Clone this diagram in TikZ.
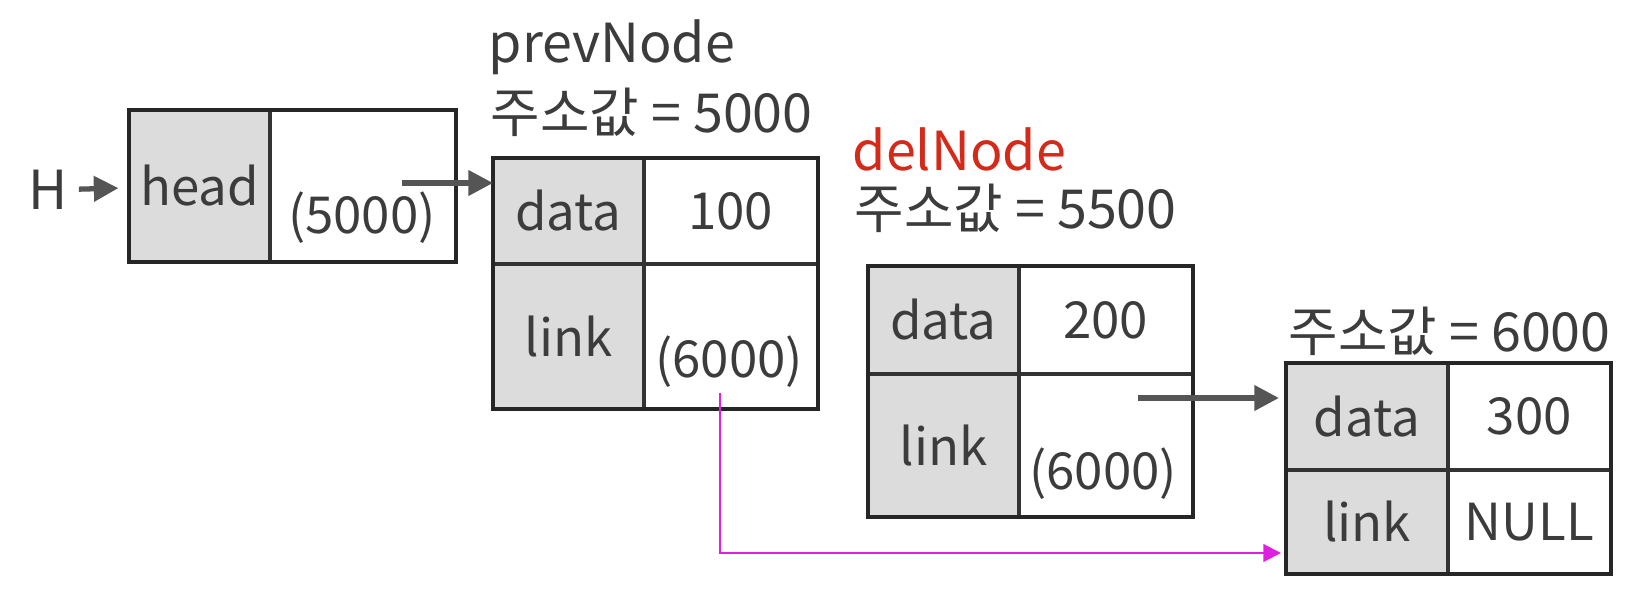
\documentclass[tikz,border=0pt]{standalone}
\usepackage{fontspec}
\setmainfont{Noto Sans CJK KR}
\usepackage{tikz}
\usetikzlibrary{arrows.meta, positioning, calc}
\definecolor{inkgray}{HTML}{3C3C3C}
\definecolor{keygray}{HTML}{DCDCDC}
\definecolor{ptrgray}{HTML}{555555}
\definecolor{delred}{HTML}{D42A1A}
\definecolor{linkpink}{HTML}{E020E0}
\newcommand{\lblsize}{\fontsize{14.5}{17}\selectfont}
\newcommand{\tagsize}{\fontsize{15.3}{18}\selectfont}

\begin{document}
\begin{tikzpicture}[x=0.01cm, y=-0.01cm, >=Latex, font=\lblsize, text=inkgray]
    \tikzset{
        cell/.style={draw=black!80, line width=0.5pt, inner sep=0pt, anchor=north west},
        key/.style={cell, fill=keygray},
        val/.style={cell, fill=white},
        outer/.style={draw=black!85, line width=1.1pt},
        txt/.style={inner sep=0pt},
        tag/.style={txt, anchor=west, font=\tagsize},
        ptr/.style={draw=ptrgray, line width=1.5pt, -{Triangle[length=7pt, width=7pt]}},
        relink/.style={draw=linkpink, line width=0.6pt, -{Triangle[length=5pt, width=5pt]}}
    }
    \useasboundingbox (0,0) rectangle (1632,600);

    % head pointer
    \node[txt, font=\tagsize] (H) at (48,190) {H};
    \node[key, minimum width=1.39cm, minimum height=1.5cm] (headk) at (129,110) {head};
    \node[val, minimum width=1.84cm, minimum height=1.5cm, right=0pt of headk] (headv) {};
    \node[txt] (headval) at (362,218) {(5000)};
    \draw[outer] (headk.north west) rectangle (headv.south east);

    % prevNode
    \node[tag] (plabel) at (488,47) {prevNode};
    \node[tag] (paddr) at (490,112) {주소값 = 5000};
    \node[key, minimum width=1.49cm, minimum height=1.04cm] (pdk) at (493,158) {data};
    \node[val, minimum width=1.72cm, minimum height=1.04cm, right=0pt of pdk] (pdv) {100};
    \node[key, minimum width=1.49cm, minimum height=1.43cm, below=0pt of pdk] (plk) {link};
    \node[val, minimum width=1.72cm, minimum height=1.43cm, below=0pt of pdv] (plv) {};
    \node[txt] (plval) at (729,362) {(6000)};
    \draw[outer] (pdk.north west) rectangle (plv.south east);

    % delNode
    \node[tag, text=delred] (dlabel) at (852,149) {delNode};
    \node[tag] (daddr) at (854,208) {주소값 = 5500};
    \node[key, minimum width=1.49cm, minimum height=1.06cm] (ddk) at (868,266) {data};
    \node[val, minimum width=1.72cm, minimum height=1.06cm, right=0pt of ddk] (ddv) {200};
    \node[key, minimum width=1.49cm, minimum height=1.41cm, below=0pt of ddk] (dlk) {link};
    \node[val, minimum width=1.72cm, minimum height=1.41cm, below=0pt of ddv] (dlv) {};
    \node[txt] (dlval) at (1103,474) {(6000)};
    \draw[outer] (ddk.north west) rectangle (dlv.south east);

    % node at 6000
    \node[tag] (raddr) at (1288,331) {주소값 = 6000};
    \node[key, minimum width=1.60cm, minimum height=1.05cm] (rdk) at (1286,363) {data};
    \node[val, minimum width=1.61cm, minimum height=1.05cm, right=0pt of rdk] (rdv) {300};
    \node[key, minimum width=1.60cm, minimum height=1.02cm, below=0pt of rdk] (rlk) {link};
    \node[val, minimum width=1.61cm, minimum height=1.02cm, below=0pt of rdv] (rlv) {NULL};
    \draw[outer] (rdk.north west) rectangle (rlv.south east);

    % links
    \coordinate (hptr) at (402,183);
    \coordinate (dptr) at (1138,398);
    \coordinate (pptr) at (720,393);
    \coordinate (pend) at (1281,553);
    \draw[ptr, shorten <=3pt, shorten >=3pt] (H) -- (headk);
    \draw[ptr] (hptr) -- (hptr -| pdk.west);
    \draw[ptr, shorten >=2pt] (dptr) -- (dptr -| rdk.west);
    \draw[relink] (pptr) |- (pend);
\end{tikzpicture}
\end{document}
